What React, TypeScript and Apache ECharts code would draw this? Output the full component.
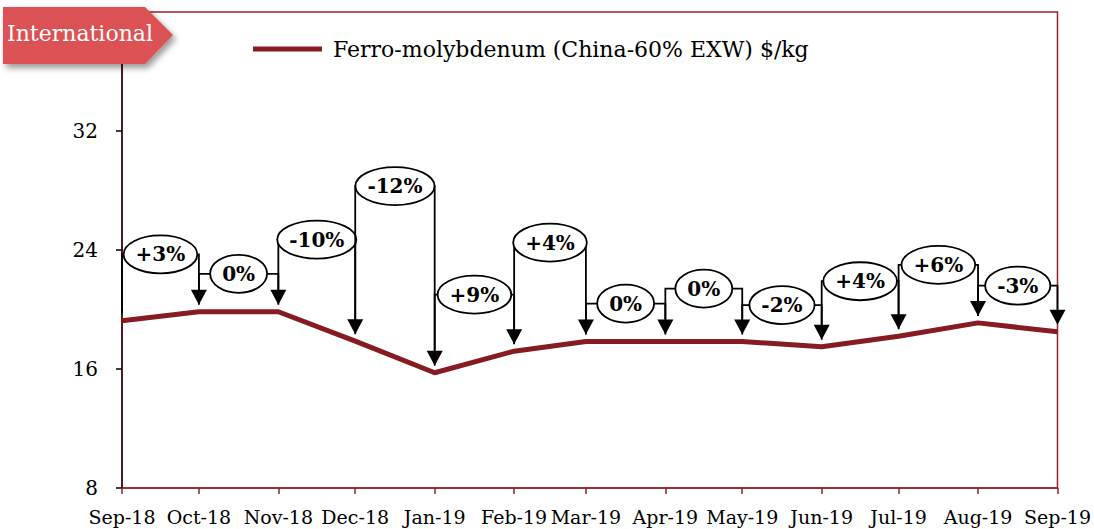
import React, { useEffect, useRef } from 'react';
import * as echarts from 'echarts';

const monthDates = ['2018-09-01', '2018-10-01', '2018-11-01', '2018-12-01', '2019-01-01', '2019-02-01', '2019-03-01', '2019-04-01', '2019-05-01', '2019-06-01', '2019-07-01', '2019-08-01', '2019-09-01'];
const monthLabels = ['Sep-18', 'Oct-18', 'Nov-18', 'Dec-18', 'Jan-19', 'Feb-19', 'Mar-19', 'Apr-19', 'May-19', 'Jun-19', 'Jul-19', 'Aug-19', 'Sep-19'];
const prices = [19.25, 19.85, 19.85, 17.87, 15.75, 17.2, 17.85, 17.85, 17.85, 17.5, 18.2, 19.1, 18.5];
const changeLabels = ['+3%', '0%', '-10%', '-12%', '+9%', '+4%', '0%', '0%', '-2%', '+4%', '+6%', '-3%'];
const changeLevels = [23.7, 22.4, 24.7, 28.3, 21.0, 24.5, 20.4, 21.4, 20.3, 21.9, 23.0, 21.6];
const yMin = 8;
const yMax = 40;
const yStep = 8;
const seriesName = 'Ferro-molybdenum (China-60% EXW) $/kg';
const tagText = 'International';

const FONT = '"DejaVu Serif", "Liberation Serif", serif';
const LINE_COLOR = '#861c22';
const AXIS_RED = '#9a2228';

function toTs(s: string) {
  const [y, m, d] = s.split('-').map(Number);
  return Date.UTC(y, m - 1, d);
}

let measureCtx: CanvasRenderingContext2D | null = null;
function measure(text: string, font: string) {
  if (!measureCtx) measureCtx = document.createElement('canvas').getContext('2d');
  if (!measureCtx) return text.length * 12;
  measureCtx.font = font;
  return measureCtx.measureText(text).width;
}

export default function App() {
  const ref = useRef<HTMLDivElement>(null);

  useEffect(() => {
    if (!ref.current) return;
    const chart = echarts.init(ref.current, null, { renderer: 'svg' });
    const ts = monthDates.map(toTs);
    const lineData = ts.map((t, i) => [t, prices[i]]);
    const connectorData = changeLabels.map((_, i) => [ts[i], prices[i], ts[i + 1], prices[i + 1], changeLevels[i]]);
    const labelFont = `bold 20px ${FONT}`;

    const option: any = {
      animation: false,
      backgroundColor: '#fff',
      grid: {
        left: 122,
        right: 36,
        top: 12,
        bottom: 41,
        show: true,
        borderColor: AXIS_RED,
        borderWidth: 1.5,
        backgroundColor: 'transparent',
      },
      legend: {
        left: 253,
        top: 38,
        padding: 0,
        itemWidth: 69,
        itemHeight: 5,
        icon: 'rect',
        data: [seriesName],
        textStyle: { fontFamily: FONT, fontSize: 22, color: '#000', padding: [0, 0, 0, 6] },
      },
      xAxis: {
        type: 'value',
        min: ts[0],
        max: ts[ts.length - 1],
        splitLine: { show: false },
        axisLine: { show: true, lineStyle: { color: AXIS_RED, width: 1.5 } },
        axisTick: { show: true, length: 6, lineStyle: { color: AXIS_RED, width: 1.5 }, customValues: ts },
        axisLabel: {
          customValues: ts,
          margin: 19,
          color: '#000',
          fontFamily: FONT,
          fontSize: 19,
          hideOverlap: false,
          formatter: (v: number) => {
            const i = ts.indexOf(v);
            return i >= 0 ? monthLabels[i] : '';
          },
        },
      },
      yAxis: {
        type: 'value',
        min: yMin,
        max: yMax,
        interval: yStep,
        splitLine: { show: false },
        axisLine: { show: true, lineStyle: { color: '#2a0a0a', width: 1.5 } },
        axisTick: { show: true, length: 6, lineStyle: { color: '#000', width: 1.5 } },
        axisLabel: {
          margin: 24,
          color: '#000',
          fontFamily: FONT,
          fontSize: 20,
          formatter: (v: number) => (v === yMax ? '' : String(v)),
        },
      },
      series: [
        {
          name: seriesName,
          type: 'line',
          data: lineData,
          symbol: 'none',
          z: 2,
          itemStyle: { color: LINE_COLOR },
          lineStyle: { color: LINE_COLOR, width: 5 },
        },
        {
          type: 'custom',
          data: connectorData,
          encode: { x: [0, 2], y: [1, 3, 4] },
          z: 3,
          silent: true,
          renderItem: (params: any, api: any) => {
            const p0 = api.coord([api.value(0), api.value(1)]);
            const p1 = api.coord([api.value(2), api.value(3)]);
            const pl = api.coord([api.value(0), api.value(4)]);
            const gap = 7;
            const ah = 15;
            const aw = 8;
            const tipY = p1[1] - gap;
            const label = changeLabels[params.dataIndex];
            const tw = measure(label, labelFont);
            const rx = tw / 2 + 12;
            const ry = 19;
            const cx = (p0[0] + p1[0]) / 2;
            return {
              type: 'group',
              children: [
                {
                  type: 'polyline',
                  shape: { points: [[p0[0], p0[1] - gap], [p0[0], pl[1]], [p1[0], pl[1]], [p1[0], tipY - ah]] },
                  style: { stroke: '#000', lineWidth: 1.8, fill: null },
                },
                {
                  type: 'polygon',
                  shape: { points: [[p1[0] - aw, tipY - ah], [p1[0] + aw, tipY - ah], [p1[0], tipY]] },
                  style: { fill: '#000' },
                },
                {
                  type: 'ellipse',
                  shape: { cx, cy: pl[1], rx, ry },
                  style: { fill: '#fff', stroke: '#000', lineWidth: 1.8 },
                },
                {
                  type: 'text',
                  x: cx,
                  y: pl[1],
                  style: { text: label, font: labelFont, fill: '#000', align: 'center', verticalAlign: 'middle' },
                },
              ],
            };
          },
        },
      ],
      graphic: [
        {
          type: 'polygon',
          z: 100,
          shape: { points: [[3, 7], [145, 7], [173, 35], [145, 64], [3, 64]] },
          style: {
            fill: '#dc5152',
            shadowBlur: 6,
            shadowOffsetX: 3,
            shadowOffsetY: 4,
            shadowColor: 'rgba(0,0,0,0.4)',
          },
        },
        {
          type: 'text',
          z: 101,
          left: 7,
          top: 22,
          style: { text: tagText, fill: '#fff', font: `22px ${FONT}` },
        },
      ],
    };

    chart.setOption(option);
    return () => chart.dispose();
  }, []);

  return <div ref={ref} style={{ position: 'fixed', left: 0, top: 0, width: 1094, height: 529 }} />;
}
